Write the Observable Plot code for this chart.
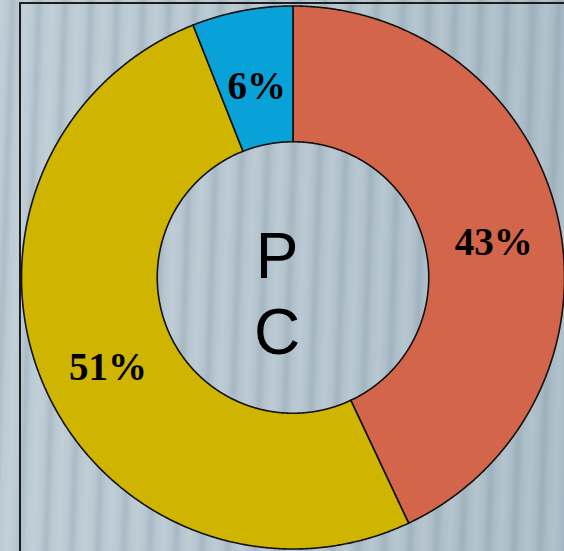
<!DOCTYPE html>
<html>
<head>
<meta charset="utf-8">
<script src="https://cdn.jsdelivr.net/npm/d3@7"></script>
<script src="https://cdn.jsdelivr.net/npm/@observablehq/plot@0.6"></script>
<style>
  html, body { margin: 0; padding: 0; }
  body {
    width: 564px; height: 551px; overflow: hidden; position: relative;
    background:
      repeating-linear-gradient(92deg,
        rgba(255,255,255,0.10) 0px,
        rgba(255,255,255,0.00) 7px,
        rgba(60,85,105,0.12) 13px,
        rgba(255,255,255,0.00) 19px,
        rgba(255,255,255,0.10) 26px),
      linear-gradient(90deg, #bccbd4 0%, #b4c4ce 50%, #a9bbc6 100%);
  }
  #frame {
    position: absolute; left: 19px; top: 2px; width: 700px; height: 700px;
    border-left: 2px solid #1c1c1c; border-top: 2px solid #1c1c1c;
  }
  #chart { position: absolute; left: 0; top: 0; }
</style>
</head>
<body>
<div id="frame"></div>
<div id="chart"></div>
<script>
// ---- data ----
const sliceLabels = ["43%", "51%", "6%"];
const sliceValues = [43, 51, 6];
const sliceColors = ["#D3654A", "#CFB400", "#08A2D8"];
const centerLetters = ["P", "C"];

const innerRatio = 0.5;

// pie layout (angle 0 at 12 o'clock, clockwise)
const arcs = d3.pie().sort(null).value(d => d)(sliceValues);

function ringPolygon(a0, a1, r0, r1) {
  const n = Math.max(2, Math.ceil((a1 - a0) / (Math.PI / 720)));
  const pts = [];
  for (let i = 0; i <= n; i++) {
    const a = a0 + (a1 - a0) * i / n;
    pts.push([r1 * Math.sin(a), r1 * Math.cos(a)]);
  }
  for (let i = n; i >= 0; i--) {
    const a = a0 + (a1 - a0) * i / n;
    pts.push([r0 * Math.sin(a), r0 * Math.cos(a)]);
  }
  pts.push(pts[0]);
  return pts;
}

const features = arcs.map((a, i) => ({
  type: "Feature",
  properties: { label: sliceLabels[i] },
  geometry: { type: "Polygon", coordinates: [ringPolygon(a.startAngle, a.endAngle, innerRatio, 1)] }
}));

const labelData = arcs.map((a, i) => {
  const mid = (a.startAngle + a.endAngle) / 2;
  const r = (innerRatio + 1) / 2;
  return { x: r * Math.sin(mid), y: r * Math.cos(mid), label: sliceLabels[i] };
});

const domainBox = { type: "MultiPoint", coordinates: [[-1, -1], [1, 1]] };

const chart = Plot.plot({
  width: 564,
  height: 551,
  marginLeft: 21,
  marginRight: 0,
  marginTop: 5,
  marginBottom: 2,
  style: "background: transparent; overflow: visible;",
  projection: { type: "reflect-y", domain: domainBox },
  color: { type: "ordinal", domain: sliceLabels, range: sliceColors },
  marks: [
    Plot.geo(features, {
      fill: d => d.properties.label,
      stroke: "#111",
      strokeWidth: 1.6,
      strokeLinejoin: "round"
    }),
    Plot.text(labelData, {
      x: "x", y: "y", text: "label",
      fontSize: 39, fontWeight: "bold",
      fontFamily: "Liberation Serif, Times New Roman, serif",
      fill: "#000", dx: 2, dy: 9
    }),
    Plot.text([{ x: 0, y: 0, t: centerLetters.join("\n") }], {
      x: "x", y: "y", text: "t",
      fontSize: 64, lineHeight: 1.19,
      fontFamily: "Liberation Sans, Arial, sans-serif",
      fill: "#000", dx: -16, dy: 14
    })
  ]
});
document.getElementById("chart").appendChild(chart);
</script>
</body>
</html>
